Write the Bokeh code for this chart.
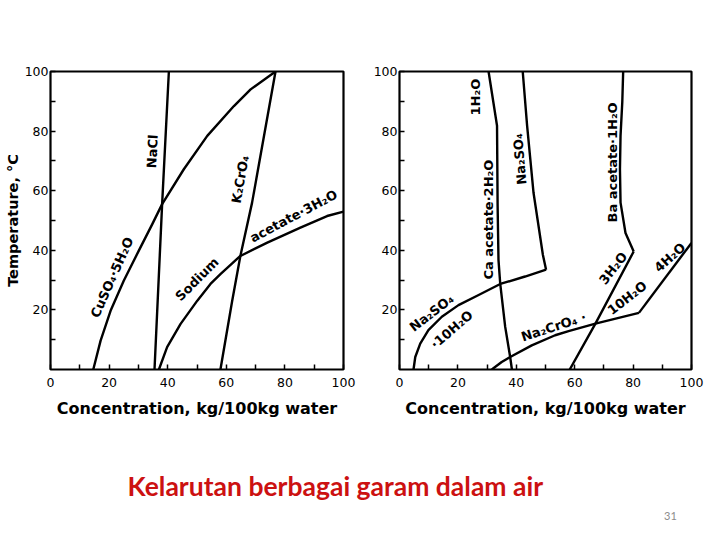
from bokeh.plotting import figure
from bokeh.layouts import column, row
from bokeh.models import Range1d, FixedTicker, Label
from bokeh.core.properties import value
from bokeh.embed import file_html
from bokeh.resources import INLINE

# ---------------- data (concentration kg/100kg water, temperature degC) ----------------
# Left panel
nacl_x = [35.5, 38.1, 40.4]
nacl_t = [0, 55.5, 100]
cuso4_x = [14.6, 17.1, 20.5, 25.0, 30.1, 34.7, 38.1, 45.5, 53.5, 62.6, 68.3, 76.8]
cuso4_t = [0, 9.7, 19.7, 29.8, 39.8, 48.7, 55.5, 67.2, 78.4, 88.4, 94.0, 100]
k2cro4_x = [58.0, 62.0, 64.8, 68.8, 76.8]
k2cro4_t = [0, 23, 38.1, 56, 100]
naac_x = [37.0, 39.8, 44.4, 50.1, 54.6, 58.0, 64.8, 74.0, 85.3, 94.4, 100]
naac_t = [0, 7.5, 15.3, 23.1, 28.7, 32.0, 38.1, 42.6, 47.6, 51.5, 53.0]

# Right panel
caac_x = [30.5, 33.4, 33.6, 33.9, 34.5, 36.2, 37.9, 38.5]
caac_t = [100, 81.8, 55, 36.8, 28.7, 14.3, 4.2, 0]
na2so4_x = [50.2, 49.1, 45.9, 43.7, 42.2]
na2so4_t = [33.5, 38.5, 59.3, 81.8, 100]
na2so4_10_x = [4.8, 5.4, 7.1, 9.9, 14.5, 20.2, 27.1, 34.5, 43.0, 50.2]
na2so4_10_t = [0, 4.2, 8.7, 13.2, 17.7, 21.6, 25.0, 28.7, 31.2, 33.5]
na2cro4_10_x = [31.6, 35.0, 37.9, 45.3, 53.3, 57.9, 67.1, 82.0]
na2cro4_10_t = [0, 2.5, 4.2, 8.1, 11.5, 12.9, 15.4, 19.0]
na2cro4_4_x = [82.0, 100]
na2cro4_4_t = [19.0, 42.5]
baac3_x = [58.3, 67.1, 80.2]
baac3_t = [0, 15.4, 39.6]
baac1_x = [80.2, 77.4, 75.7, 75.5, 75.7, 76.3, 76.6]
baac1_t = [39.6, 45.8, 56.0, 67.2, 78.5, 89.8, 100]

x_ticks = [0, 20, 40, 60, 80, 100]
x_minor = [10, 30, 50, 70, 90]
y_ticks = [20, 40, 60, 80, 100]
y_minor = [10, 30, 50, 70, 90]

left_labels = [
    ("NaCl", 34.8, 73.2, 87),
    ("K\u2082CrO\u2084", 64.8, 63.8, 80),
    ("CuSO\u2084\u00b75H\u2082O", 21.0, 30.9, 66),
    ("Sodium", 50.0, 30.3, 45),
    ("acetate\u00b73H\u2082O", 83.0, 51.5, 28),
]
right_labels = [
    ("Ca acetate\u00b72H\u2082O", 30.6, 50.3, 90),
    ("1H\u2082O", 26.0, 91.4, 90),
    ("Na\u2082SO\u2084", 41.2, 70.6, 95),
    ("Ba acetate\u00b71H\u2082O", 72.8, 69.5, 90),
    ("Na\u2082SO\u2084", 11.0, 19.0, 38),
    ("\u00b710H\u2082O", 17.9, 13.4, 41),
    ("Na\u2082CrO\u2084 \u00b7", 52.8, 14.3, 18),
    ("3H\u2082O", 73.2, 34.0, 52),
    ("10H\u2082O", 78.0, 24.0, 38),
    ("4H\u2082O", 92.6, 37.6, 42),
]

TICK_FONT = "DejaVu Sans"
LABEL_FONT = "DejaVu Sans"


def make_panel(width, height, bl, br, bt, bb, ylabel):
    p = figure(width=width, height=height, output_backend="svg", toolbar_location=None,
               x_range=Range1d(0, 100), y_range=Range1d(0, 100),
               min_border_left=bl, min_border_right=br, min_border_top=bt, min_border_bottom=bb)
    p.grid.visible = False
    p.outline_line_color = "black"
    p.outline_line_width = 2.2
    p.background_fill_color = "white"
    p.border_fill_color = "white"
    p.xaxis.ticker = FixedTicker(ticks=x_ticks, minor_ticks=x_minor)
    p.yaxis.ticker = FixedTicker(ticks=y_ticks, minor_ticks=y_minor)
    for ax in (p.xaxis[0], p.yaxis[0]):
        ax.axis_line_color = None
        ax.major_tick_in = 5
        ax.major_tick_out = 0
        ax.minor_tick_in = 5
        ax.minor_tick_out = 0
        ax.major_tick_line_width = 1.5
        ax.minor_tick_line_width = 1.5
        ax.major_tick_line_color = "black"
        ax.minor_tick_line_color = "black"
        ax.major_label_text_font = TICK_FONT
        ax.major_label_text_font_size = "12.5px"
        ax.major_label_text_color = "black"
        ax.axis_label_text_font = LABEL_FONT
        ax.axis_label_text_font_style = "bold"
        ax.axis_label_text_color = "black"
    p.xaxis.axis_label = "Concentration, kg/100kg water"
    p.xaxis.axis_label_text_font_size = "16px"
    p.yaxis.axis_label_text_font_size = "14.5px"
    p.xaxis.major_label_standoff = 8
    p.xaxis.axis_label_standoff = 9
    p.yaxis.major_label_standoff = 2
    p.yaxis.axis_label_standoff = 1
    if ylabel:
        p.yaxis.axis_label = ylabel
    return p


def add_labels(p, labels):
    for txt, x, y, ang in labels:
        p.text(x=[x], y=[y], text=[txt], angle=ang, angle_units="deg",
               text_align="center", text_baseline="middle",
               text_font=value(LABEL_FONT), text_font_style="bold",
               text_font_size="13px", text_color="black")


# page origin is the window's top-left corner
p1 = make_panel(363, 424, 50, 20, 71, 55, "Temperature, \u00b0C")
for xs, ts in [(nacl_x, nacl_t), (cuso4_x, cuso4_t), (k2cro4_x, k2cro4_t), (naac_x, naac_t)]:
    p1.line(xs, ts, line_color="black", line_width=2.4, line_join="round")
add_labels(p1, left_labels)

p2 = make_panel(353, 424, 36, 25, 71, 55, None)
for xs, ts in [(caac_x, caac_t), (na2so4_x, na2so4_t), (na2so4_10_x, na2so4_10_t),
               (na2cro4_10_x, na2cro4_10_t), (na2cro4_4_x, na2cro4_4_t),
               (baac3_x, baac3_t), (baac1_x, baac1_t)]:
    p2.line(xs, ts, line_color="black", line_width=2.4, line_join="round")
add_labels(p2, right_labels)

p3 = figure(width=716, height=108, output_backend="svg", toolbar_location=None,
            x_range=Range1d(0, 716), y_range=Range1d(0, 108),
            min_border=0)
p3.axis.visible = False
p3.grid.visible = False
p3.outline_line_color = None
p3.background_fill_color = "white"
p3.border_fill_color = "white"
p3.add_layout(Label(x=127, y=47, text="Kelarutan berbagai garam dalam air",
                    text_font="Lato", text_font_style="bold", text_font_size="26.5px",
                    text_color="#cc1111", text_baseline="middle", text_align="left"))
p3.add_layout(Label(x=670, y=17, text="31", text_font="Lato", text_font_size="11px",
                    text_color="#8c8c8c", text_baseline="middle", text_align="center"))

layout = column(row(p1, p2, spacing=0), p3, spacing=0)
open("out.html", "w").write(file_html(layout, INLINE))
